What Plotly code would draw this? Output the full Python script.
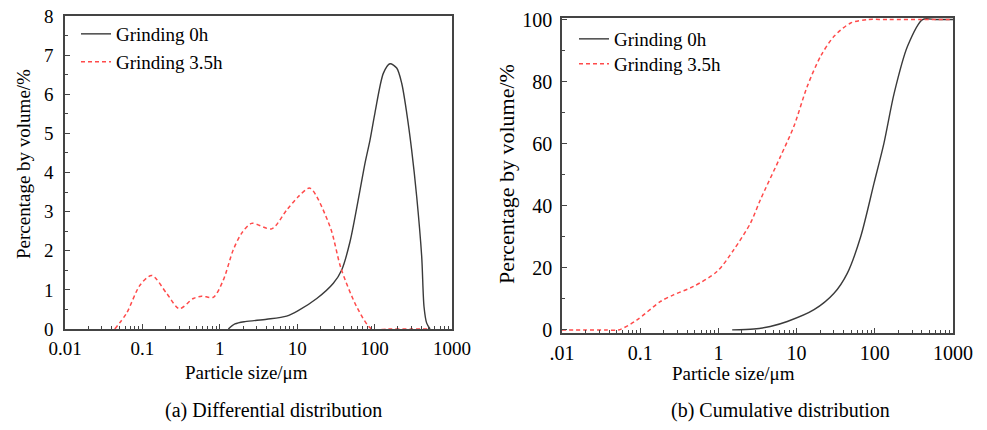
import plotly.graph_objects as go

# ---------------- data ----------------
# (a) differential distribution
diff_0h_x = [1.29, 1.57, 2.12, 4.04, 7.3, 10.3, 17.9, 29.3, 37.6, 48.1, 64.8, 75.2, 87.2, 101, 130, 158, 193, 224, 260, 301, 350, 406, 435, 471, 520]
diff_0h_y = [0, 0.13, 0.19, 0.25, 0.33, 0.47, 0.78, 1.17, 1.51, 2.23, 3.55, 4.24, 4.83, 5.52, 6.54, 6.78, 6.67, 6.28, 5.52, 4.58, 3.38, 1.85, 0.57, 0.15, 0]

diff_35h_x = [0.044, 0.0627, 0.093, 0.132, 0.206, 0.30, 0.455, 0.583, 0.824, 1.11, 1.49, 1.92, 2.58, 4.68, 7.31, 10.3, 14.6, 26.5, 36.8, 58.7, 91.6, 150, 300, 500]
diff_35h_y = [0, 0.41, 1.12, 1.37, 0.91, 0.52, 0.78, 0.84, 0.81, 1.25, 2.02, 2.45, 2.70, 2.56, 3.04, 3.38, 3.60, 2.62, 1.55, 0.57, 0.0, 0, 0, 0]

# (b) cumulative distribution
cum_0h_x = [1.5, 2.84, 4.6, 7.6, 16.7, 30.1, 44.6, 66.1, 97.8, 131, 177, 262, 408, 600, 1000]
cum_0h_y = [0, 0.3, 1.1, 2.7, 6.5, 11.8, 18.3, 30.1, 47.3, 60.2, 76.3, 91.4, 100, 100, 100]

cum_35h_x = [0.01, 0.02, 0.035, 0.053, 0.091, 0.18, 0.267, 0.48, 0.96, 1.57, 2.57, 3.45, 6.23, 9.23, 13.7, 20.3, 30.1, 49.2, 80.5, 150, 400, 1000]
cum_35h_y = [0, 0, 0, 0, 3.2, 9.1, 11.3, 14.0, 18.8, 25.8, 34.4, 42.0, 55.9, 65.6, 78.5, 88.2, 94.6, 98.9, 100, 100, 100, 100]

x_tickvals = [0.01, 0.1, 1, 10, 100, 1000]
x_ticktext_a = ["0.01", "0.1", "1", "10", "100", "1000"]
x_ticktext_b = [".01", "0.1", "1", "10", "100", "1000"]
y_tickvals_a = [0, 1, 2, 3, 4, 5, 6, 7, 8]
y_tickvals_b = [0, 20, 40, 60, 80, 100]

names = ["Grinding 0h", "Grinding 3.5h"]
captions = ["(a) Differential distribution", "(b) Cumulative distribution"]
x_title = "Particle size/μm"
y_title = "Percentage by volume/%"

# ---------------- styling ----------------
W, H = 987, 430
FONT = "Liberation Serif"
BLACK = "#3a3a3a"
RED = "#ff4a4a"
AX = "#444444"

def px_x(p):
    return p / W

def px_y(p):
    return 1 - p / H

fig = go.Figure()

solid = dict(color=BLACK, width=1.4, shape="spline", smoothing=0.8)
dashed = dict(color=RED, width=1.5, dash="4px,3px", shape="spline", smoothing=0.8)

fig.add_trace(go.Scatter(x=diff_0h_x, y=diff_0h_y, mode="lines", name=names[0], line=solid,
                         xaxis="x", yaxis="y", legend="legend"))
fig.add_trace(go.Scatter(x=diff_35h_x, y=diff_35h_y, mode="lines", name=names[1], line=dashed,
                         xaxis="x", yaxis="y", legend="legend2"))
fig.add_trace(go.Scatter(x=cum_0h_x, y=cum_0h_y, mode="lines", name=names[0], line=solid,
                         xaxis="x2", yaxis="y2", legend="legend3"))
fig.add_trace(go.Scatter(x=cum_35h_x, y=cum_35h_y, mode="lines", name=names[1], line=dashed,
                         xaxis="x2", yaxis="y2", legend="legend4"))

common_axis = dict(showline=True, linecolor=AX, linewidth=1.6, mirror=True, showgrid=False,
                   zeroline=False, ticks="inside", tickcolor=AX, tickwidth=1.2, ticklen=5,
                   automargin=False)

fig.update_layout(
    template="none",
    width=W, height=H, margin=dict(l=0, r=0, t=0, b=0, pad=0, autoexpand=False),
    paper_bgcolor="white", plot_bgcolor="white",
    font=dict(family=FONT, color="black"),
    xaxis=dict(common_axis, type="log", range=[-2, 3], domain=[px_x(65), px_x(452)],
               tickvals=x_tickvals, ticktext=x_ticktext_a, tickfont=dict(family=FONT, size=19, color="black"),
               minor=dict(ticks="inside", ticklen=3, tickcolor=AX, dtick="D1"),
               anchor="y", ticklabelstandoff=1),
    yaxis=dict(common_axis, range=[0, 8], domain=[px_y(329), px_y(16)],
               tickvals=y_tickvals_a, tickfont=dict(family=FONT, size=19, color="black"),
               minor=dict(ticks="inside", ticklen=3, tickcolor=AX, dtick=0.5),
               anchor="x", ticklabelstandoff=6),
    xaxis2=dict(common_axis, type="log", range=[-2, 3], domain=[px_x(562), px_x(953)],
                tickvals=x_tickvals, ticktext=x_ticktext_b, tickfont=dict(family=FONT, size=20, color="black"),
                minor=dict(ticks="inside", ticklen=3, tickcolor=AX, dtick="D1"),
                anchor="y2", ticklabelstandoff=1),
    yaxis2=dict(common_axis, range=[-1, 100.5], domain=[px_y(333), px_y(18)],
                tickvals=y_tickvals_b, tickfont=dict(family=FONT, size=20, color="black"),
                minor=dict(ticks="inside", ticklen=3, tickcolor=AX, dtick=10),
                anchor="x2", ticklabelstandoff=4),
    showlegend=True,
)

leg_common = dict(bgcolor="rgba(0,0,0,0)", borderwidth=0, font=dict(family=FONT, size=19, color="black"),
                  xanchor="left", yanchor="middle", itemwidth=30)
fig.update_layout(
    legend=dict(leg_common, x=px_x(76), y=px_y(34)),
    legend2=dict(leg_common, x=px_x(76), y=px_y(62)),
    legend3=dict(leg_common, x=px_x(574), y=px_y(39)),
    legend4=dict(leg_common, x=px_x(574), y=px_y(64)),
)

annots = [
    dict(text=x_title, x=px_x(246), y=px_y(372), font=dict(size=19)),
    dict(text=x_title, x=px_x(733), y=px_y(373), font=dict(size=19)),
    dict(text=y_title, x=px_x(23), y=px_y(164), font=dict(size=19), textangle=-90),
    dict(text=y_title, x=px_x(506), y=px_y(174), font=dict(size=22), textangle=-90),
    dict(text=captions[0], x=px_x(273), y=px_y(410), font=dict(size=20)),
    dict(text=captions[1], x=px_x(780), y=px_y(410), font=dict(size=20)),
]
for a in annots:
    a.update(xref="paper", yref="paper", showarrow=False, xanchor="center", yanchor="middle")
    a["font"].update(family=FONT, color="black")
    fig.add_annotation(**a)

fig.write_html("out.html")
